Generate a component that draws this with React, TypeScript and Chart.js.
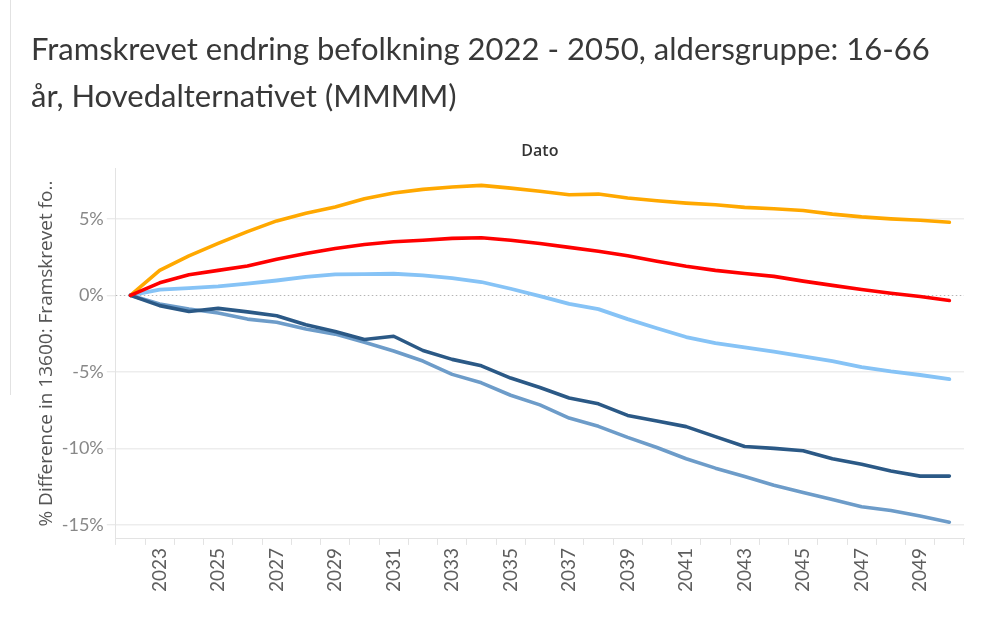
import React, { useEffect, useRef } from "react";
import { Chart, registerables } from "chart.js";

Chart.register(...registerables);

// ---- Data ----
const years = [
  "2022", "2023", "2024", "2025", "2026", "2027", "2028", "2029", "2030", "2031",
  "2032", "2033", "2034", "2035", "2036", "2037", "2038", "2039", "2040", "2041",
  "2042", "2043", "2044", "2045", "2046", "2047", "2048", "2049", "2050",
];

const seriesOrange = [
  0, 1.63, 2.58, 3.39, 4.16, 4.86, 5.36, 5.77, 6.3, 6.68,
  6.92, 7.07, 7.18, 7.0, 6.79, 6.57, 6.61, 6.35, 6.17, 6.02,
  5.91, 5.74, 5.65, 5.54, 5.3, 5.12, 4.99, 4.9, 4.77,
];

const seriesRed = [
  0, 0.82, 1.35, 1.63, 1.92, 2.36, 2.73, 3.06, 3.32, 3.5,
  3.6, 3.72, 3.76, 3.6, 3.39, 3.13, 2.88, 2.58, 2.22, 1.9,
  1.63, 1.43, 1.24, 0.93, 0.65, 0.38, 0.14, -0.08, -0.34,
];

const seriesLightBlue = [
  0, 0.38, 0.47, 0.58, 0.76, 0.97, 1.2, 1.37, 1.39, 1.41,
  1.3, 1.13, 0.87, 0.43, -0.05, -0.56, -0.9, -1.55, -2.15, -2.72,
  -3.12, -3.4, -3.68, -3.98, -4.3, -4.68, -4.97, -5.2, -5.47,
];

const seriesDarkBlue = [
  0, -0.67, -1.05, -0.85, -1.08, -1.33, -1.92, -2.36, -2.88, -2.67,
  -3.6, -4.18, -4.6, -5.4, -6.02, -6.7, -7.08, -7.84, -8.2, -8.57,
  -9.22, -9.87, -9.99, -10.14, -10.66, -11.03, -11.47, -11.8, -11.8,
];

const seriesSteelBlue = [
  0, -0.56, -0.89, -1.15, -1.55, -1.76, -2.2, -2.53, -3.06, -3.63,
  -4.29, -5.16, -5.71, -6.52, -7.15, -8.01, -8.55, -9.27, -9.93, -10.67,
  -11.28, -11.83, -12.4, -12.87, -13.33, -13.8, -14.05, -14.41, -14.81,
];

const yTickValues = [-15, -10, -5, 0, 5];
const yMin = -15.9;
const yMax = 8.3;

const titleLines = [
  "Framskrevet endring befolkning 2022 - 2050, aldersgruppe: 16-66",
  "år, Hovedalternativet (MMMM)",
];
const yAxisTitle = "% Difference in 13600: Framskrevet fo..";
const xHeader = "Dato";

const zeroLinePlugin = {
  id: "zeroLine",
  beforeDatasetsDraw(chart: any) {
    const { ctx, chartArea, scales } = chart;
    const py = Math.round(scales.y.getPixelForValue(0)) + 0.5;
    ctx.save();
    ctx.strokeStyle = "#b5b5b5";
    ctx.lineWidth = 1;
    ctx.setLineDash([1.5, 2.5]);
    ctx.beginPath();
    ctx.moveTo(chartArea.left, py);
    ctx.lineTo(chartArea.right, py);
    ctx.stroke();
    ctx.restore();
  },
};

export default function App() {
  const canvasRef = useRef<HTMLCanvasElement | null>(null);

  useEffect(() => {
    if (!canvasRef.current) return;
    const line = (data: number[], color: string, width = 3.6) => ({
      data,
      borderColor: color,
      backgroundColor: color,
      borderWidth: width,
      pointRadius: 0,
      tension: 0,
      borderJoinStyle: "round" as const,
      borderCapStyle: "round" as const,
      fill: false,
    });
    const chart = new Chart(canvasRef.current, {
      type: "line",
      data: {
        labels: years,
        datasets: [
          line(seriesRed, "#ff0000"),
          line(seriesDarkBlue, "#2b5986"),
          line(seriesSteelBlue, "#6d9cc9"),
          line(seriesLightBlue, "#86c3f6", 3.8),
          line(seriesOrange, "#ffa800"),
        ],
      },
      options: {
        responsive: false,
        animation: false,
        layout: { padding: { left: 31, right: 25, top: 0, bottom: 32 } },
        plugins: {
          legend: { display: false },
          tooltip: { enabled: false },
          title: {
            display: true,
            text: titleLines,
            align: "start",
            color: "#383838",
            font: { family: "Lato", size: 31, weight: "normal", lineHeight: 1.5 },
            padding: { top: 27, bottom: 18 },
          },
        },
        scales: {
          x: {
            type: "category",
            offset: true,
            grid: {
              offset: true,
              drawOnChartArea: false,
              drawTicks: true,
              tickLength: 6,
              color: "#e3e3e3",
              tickColor: "#e3e3e3",
            },
            border: { display: true, color: "#e3e3e3", width: 1 },
            ticks: {
              autoSkip: false,
              maxRotation: 90,
              minRotation: 90,
              padding: 3,
              color: "#5e5e5e",
              font: { family: "Lato", size: 19 },
              callback: (_v: any, i: number) => (i % 2 === 1 ? years[i] : ""),
            },
          },
          xTop: {
            type: "category",
            axis: "x",
            position: "top",
            grid: { display: false, drawTicks: false },
            border: { display: false },
            ticks: { display: false },
            title: {
              display: true,
              text: xHeader,
              color: "#333333",
              font: { family: "Open Sans", size: 16, weight: "600" },
              padding: { top: 4, bottom: 7 },
            },
          },
          y: {
            type: "linear",
            min: yMin,
            max: yMax,
            afterBuildTicks: (scale: any) => {
              scale.ticks = yTickValues.map((v) => ({ value: v }));
            },
            grid: {
              color: (ctx: any) =>
                ctx.tick && ctx.tick.value === 0 ? "rgba(0,0,0,0)" : "#ededed",
              lineWidth: 1.5,
              tickLength: 9,
              tickColor: "#e3e3e3",
              tickWidth: 1,
            },
            border: { display: true, color: "#e3e3e3", width: 1 },
            ticks: {
              padding: 3,
              color: "#888888",
              font: { family: "Lato", size: 18 },
              callback: (v: any) => `${v}%`,
            },
            title: {
              display: true,
              text: yAxisTitle,
              color: "#555555",
              font: { family: "Open Sans", size: 19 },
              padding: { top: 4, bottom: 1 },
            },
          },
        },
      } as any,
      plugins: [zeroLinePlugin],
    });
    return () => chart.destroy();
  }, []);

  return (
    <div
      style={{
        position: "absolute",
        left: 0,
        top: 0,
        width: 989,
        height: 627,
        background: "#ffffff",
        overflow: "hidden",
      }}
    >
      <div
        style={{
          position: "absolute",
          left: 10,
          top: 0,
          width: 1,
          height: 395,
          background: "#e2e2e2",
        }}
      />
      <canvas
        ref={canvasRef}
        width={989}
        height={627}
        style={{ position: "absolute", left: 0, top: 0, width: 989, height: 627 }}
      />
    </div>
  );
}
